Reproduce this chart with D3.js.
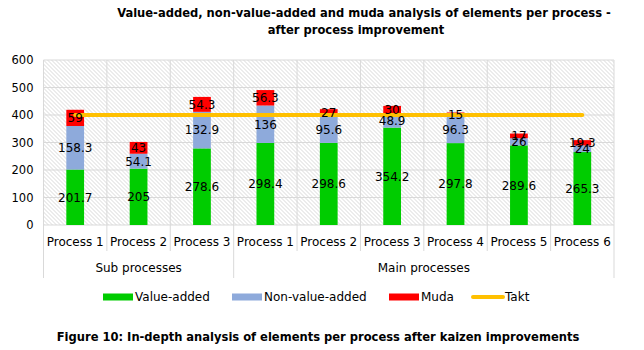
<!DOCTYPE html>
<html>
<head>
<meta charset="utf-8">
<script src="https://cdn.jsdelivr.net/npm/d3@7"></script>
<style>
  body { margin: 0; background: #fff; }
  text { font-family: "DejaVu Sans", Verdana, sans-serif; fill: #000; }
  .bold { font-family: "DejaVu Sans Condensed", "DejaVu Sans", sans-serif; font-weight: bold; }
</style>
</head>
<body>
<div id="chart"></div>
<script>
// chart data
var categories = ["Process 1", "Process 2", "Process 3", "Process 1", "Process 2", "Process 3", "Process 4", "Process 5", "Process 6"];
var groupNames = ["Sub processes", "Main processes"];
var groupSizes = [3, 6];
var valueAdded = [201.7, 205, 278.6, 298.4, 298.6, 354.2, 297.8, 289.6, 265.3];
var nonValueAdded = [158.3, 54.1, 132.9, 136, 95.6, 48.9, 96.3, 26, 24];
var muda = [59, 43, 54.3, 56.3, 27, 30, 15, 17, 19.3];
var takt = [400, 400, 400, 400, 400, 400, 400, 400, 400];
var yTicks = [0, 100, 200, 300, 400, 500, 600];
var seriesNames = ["Value-added", "Non-value-added", "Muda"];
var seriesColors = ["#00cc00", "#8eaadb", "#ff0000"];
var taktColor = "#ffc000";

var W = 644, H = 350;
var margin = { top: 60, left: 43.5, right: 30 };
var plotW = W - margin.left - margin.right;
var plotH = 165;

var svg = d3.select("#chart").append("svg")
    .attr("width", W)
    .attr("height", H);

// hatched background pattern
var defs = svg.append("defs");
var pat = defs.append("pattern")
    .attr("id", "hatch")
    .attr("patternUnits", "userSpaceOnUse")
    .attr("width", 4).attr("height", 4);
pat.append("rect").attr("width", 4).attr("height", 4).attr("fill", "#ffffff");
pat.append("path")
    .attr("d", "M-1,-1 L5,5 M3,-1 L5,1 M-1,3 L1,5")
    .attr("stroke", "#d4d4d4")
    .attr("stroke-width", 0.9);

var g = svg.append("g").attr("transform", "translate(" + margin.left + "," + margin.top + ")");

var idx = d3.range(categories.length);
var x = d3.scaleBand().domain(idx).range([0, plotW]).paddingInner(0.72).paddingOuter(0.36);
var step = x.step();
var y = d3.scaleLinear().domain([0, 600]).range([plotH, 0]);

// plot background
g.append("rect")
    .attr("width", plotW).attr("height", plotH)
    .attr("fill", "url(#hatch)");

// horizontal grid
g.selectAll(".hgrid").data(yTicks).enter().append("line")
    .attr("x1", 0).attr("x2", plotW)
    .attr("y1", d => y(d)).attr("y2", d => y(d))
    .attr("stroke", "#d9d9d9").attr("stroke-width", 1);

// vertical grid / category separators
var bounds = d3.range(categories.length + 1);
var groupBounds = [0];
groupSizes.forEach(s => groupBounds.push(groupBounds[groupBounds.length - 1] + s));
g.selectAll(".vgrid").data(bounds).enter().append("line")
    .attr("x1", d => d * step).attr("x2", d => d * step)
    .attr("y1", 0)
    .attr("y2", d => groupBounds.indexOf(d) >= 0 ? plotH + 53 : plotH + 26)
    .attr("stroke", "#d9d9d9").attr("stroke-width", 1);

// y axis labels
g.selectAll(".ytick").data(yTicks).enter().append("text")
    .attr("x", -10)
    .attr("y", d => y(d))
    .attr("dy", "0.35em")
    .attr("text-anchor", "end")
    .style("font-size", "11.5px")
    .text(d => d);

// stacked bars
var rows = idx.map(i => ({ i: i, va: valueAdded[i], nva: nonValueAdded[i], muda: muda[i] }));
var stack = d3.stack().keys(["va", "nva", "muda"]);
var layers = stack(rows);

g.selectAll(".layer").data(layers).enter().append("g")
    .attr("fill", (d, k) => seriesColors[k])
    .selectAll("rect").data(d => d).enter().append("rect")
    .attr("x", d => x(d.data.i))
    .attr("width", x.bandwidth())
    .attr("y", d => y(d[1]))
    .attr("height", d => y(d[0]) - y(d[1]));

// takt line
var line = d3.line()
    .x((d, i) => x(i) + x.bandwidth() / 2)
    .y(d => y(d));
g.append("path")
    .datum(takt)
    .attr("d", line)
    .attr("fill", "none")
    .attr("stroke", taktColor)
    .attr("stroke-width", 4)
    .attr("stroke-linecap", "round");

// data labels
layers.forEach(function (layer) {
    g.selectAll(".lbl-" + layer.key).data(layer).enter().append("text")
        .attr("x", d => x(d.data.i) + x.bandwidth() / 2)
        .attr("y", d => y((d[0] + d[1]) / 2))
        .attr("dy", "0.36em")
        .attr("text-anchor", "middle")
        .style("font-size", "12px")
        .text(d => d.data[layer.key]);
});

// category labels
g.selectAll(".cat").data(categories).enter().append("text")
    .attr("x", (d, i) => x(i) + x.bandwidth() / 2)
    .attr("y", plotH + 17)
    .attr("dy", "0.35em")
    .attr("text-anchor", "middle")
    .style("font-size", "12px")
    .text(d => d);

// group labels
g.selectAll(".grp").data(groupNames).enter().append("text")
    .attr("x", (d, k) => (groupBounds[k] + groupBounds[k + 1]) / 2 * step)
    .attr("y", plotH + 43)
    .attr("dy", "0.35em")
    .attr("text-anchor", "middle")
    .style("font-size", "12px")
    .text(d => d);

// legend
var legendX = [103, 232, 389];
var legend = svg.append("g");
seriesNames.forEach(function (name, k) {
    legend.append("rect")
        .attr("x", legendX[k]).attr("y", 293.5)
        .attr("width", 30).attr("height", 7)
        .attr("fill", seriesColors[k]);
    legend.append("text")
        .attr("x", legendX[k] + 32).attr("y", 297)
        .attr("dy", "0.35em")
        .style("font-size", "12px")
        .text(name);
});
legend.append("line")
    .attr("x1", 473).attr("x2", 503)
    .attr("y1", 297).attr("y2", 297)
    .attr("stroke", taktColor).attr("stroke-width", 4)
    .attr("stroke-linecap", "round");
legend.append("text")
    .attr("x", 505).attr("y", 297)
    .attr("dy", "0.35em")
    .style("font-size", "12px")
    .text("Takt");

// title
svg.append("text")
    .attr("class", "bold")
    .attr("x", 364).attr("y", 13)
    .attr("dy", "0.35em")
    .attr("text-anchor", "middle")
    .style("font-size", "12.8px")
    .text("Value-added, non-value-added and muda analysis of elements per process -");
svg.append("text")
    .attr("class", "bold")
    .attr("x", 356).attr("y", 30)
    .attr("dy", "0.35em")
    .attr("text-anchor", "middle")
    .style("font-size", "12.8px")
    .text("after process improvement");

// caption
svg.append("text")
    .attr("class", "bold")
    .attr("x", 318).attr("y", 337)
    .attr("dy", "0.35em")
    .attr("text-anchor", "middle")
    .style("font-size", "12.8px")
    .text("Figure 10: In-depth analysis of elements per process after kaizen improvements");
</script>
</body>
</html>
